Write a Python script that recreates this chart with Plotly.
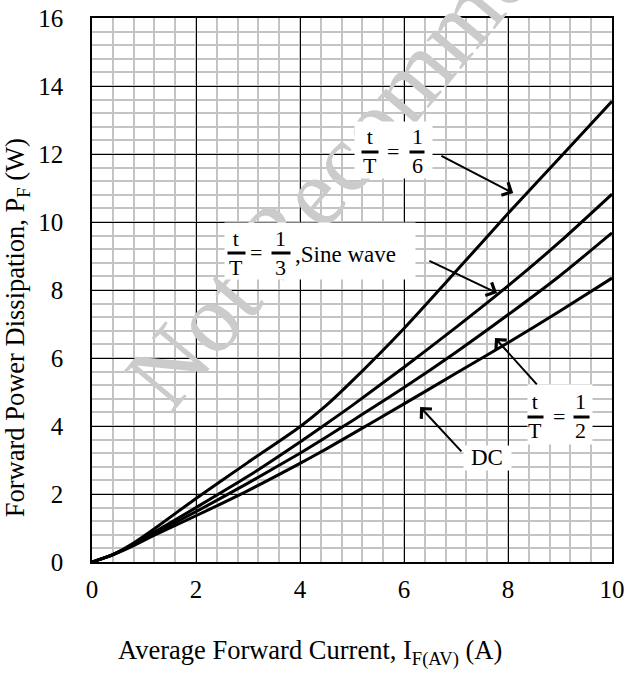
import plotly.graph_objects as go

# ---------------- data ----------------
current = [0, 0.4, 0.8, 1.2, 2, 3, 4, 4.5, 5, 6, 7, 8, 9, 10]
p_sixth = [0, 0.22, 0.56, 0.98, 1.87, 2.93, 3.98, 4.60, 5.32, 6.87, 8.55, 10.25, 11.9, 13.55]
p_sine = [0, 0.22, 0.52, 0.88, 1.60, 2.52, 3.53, 4.06, 4.60, 5.73, 6.90, 8.12, 9.42, 10.82]
p_half = [0, 0.22, 0.50, 0.84, 1.48, 2.32, 3.20, 3.67, 4.15, 5.13, 6.17, 7.27, 8.42, 9.68]
p_dc = [0, 0.21, 0.48, 0.79, 1.36, 2.10, 2.90, 3.32, 3.76, 4.65, 5.55, 6.45, 7.38, 8.35]
series = [("t/T=1/6", p_sixth), ("t/T=1/3, Sine wave", p_sine),
          ("t/T=1/2", p_half), ("DC", p_dc)]
x_ticks = [0, 2, 4, 6, 8, 10]
y_ticks = [0, 2, 4, 6, 8, 10, 12, 14, 16]

SERIF = "Liberation Serif"

fig = go.Figure()
for name, vals in series:
    fig.add_trace(go.Scatter(x=current, y=vals, mode="lines", name=name,
                             line=dict(color="black", width=3, shape="spline", smoothing=0.6),
                             showlegend=False, hoverinfo="skip"))

annotations = []

# watermark (drawn first so labels sit on top)
annotations.append(dict(x=5.72, y=13.5, xref="x", yref="y", text="Not Recommended",
                        showarrow=False, textangle=-50, xanchor="center", yanchor="middle",
                        font=dict(family=SERIF, size=98, color="#cbcbcb")))

def white_box(x0, x1, y0, y1):
    annotations.append(dict(x=(x0 + x1) / 2, y=(y0 + y1) / 2, xref="x", yref="y",
                            text=" ", showarrow=False, bgcolor="white",
                            width=(x1 - x0) * 52, height=(y1 - y0) * 34,
                            borderpad=0, font=dict(size=4)))

def text(x, y, s, size=21, xanchor="center"):
    annotations.append(dict(x=x, y=y, xref="x", yref="y", text=s, showarrow=False,
                            xanchor=xanchor, yanchor="middle",
                            font=dict(family=SERIF, size=size, color="black")))

def bar(x0, x1, y):
    annotations.append(dict(x=(x0 + x1) / 2, y=y, xref="x", yref="y", text=" ",
                            showarrow=False, bgcolor="black",
                            width=(x1 - x0) * 52, height=1.5, borderpad=0,
                            font=dict(size=1)))

def arrow(xt, yt, xh, yh):
    annotations.append(dict(x=xh, y=yh, ax=xt, ay=yt, xref="x", yref="y",
                            axref="x", ayref="y", text="", showarrow=True,
                            arrowhead=4, arrowsize=1.4, arrowwidth=2,
                            arrowcolor="black", standoff=0, startstandoff=0))

# t/T = 1/6
white_box(5.06, 6.54, 11.29, 12.94)
text(5.35, 12.08, "t<br>T", size=22)
bar(5.19, 5.50, 12.06)
text(5.79, 12.08, "=", size=22)
text(6.25, 12.08, "1<br>6", size=22)
bar(6.12, 6.38, 12.06)
arrow(6.69, 11.97, 8.1, 10.85)

# t/T = 1/3, Sine wave
white_box(2.56, 6.21, 8.32, 9.97)
text(2.77, 9.08, "t<br>T", size=22)
bar(2.62, 2.94, 9.10)
text(3.15, 9.10, "=", size=22)
text(3.63, 9.08, "1<br>3", size=22)
bar(3.46, 3.81, 9.10)
text(3.86, 9.03, ",Sine wave", size=23, xanchor="left")
arrow(6.46, 8.88, 7.79, 7.91)

# t/T = 1/2
white_box(8.38, 9.62, 3.47, 5.21)
text(8.52, 4.28, "t<br>T", size=22)
bar(8.38, 8.67, 4.26)
text(8.98, 4.28, "=", size=22)
text(9.40, 4.28, "1<br>2", size=22)
bar(9.27, 9.56, 4.26)
arrow(8.58, 5.18, 7.75, 6.59)

# DC
white_box(7.15, 8.05, 2.7, 3.4)
text(7.6, 3.06, "DC", size=23)
arrow(7.13, 3.21, 6.31, 4.56)

# axis titles
annotations.append(dict(x=0.419, y=-0.167, xref="paper", yref="paper",
                        xanchor="center", yanchor="middle",
                        text="Average Forward Current, I<sub>F(AV)</sub> (A)",
                        showarrow=False, font=dict(family=SERIF, size=26.5, color="black")))
annotations.append(dict(x=-0.144, y=0.43, xref="paper", yref="paper",
                        xanchor="center", yanchor="middle",
                        text="Forward Power Dissipation, P<sub>F</sub> (W)", textangle=-90,
                        showarrow=False, font=dict(family=SERIF, size=26.5, color="black")))

axis_common = dict(showline=True, mirror=True, linecolor="black", linewidth=1.5,
                   showgrid=True, gridcolor="black", gridwidth=1, zeroline=False,
                   automargin=False, ticklabeloverflow="allow",
                   ticks="", tickfont=dict(family=SERIF, size=25, color="black"),
                   minor=dict(dtick=0.4, showgrid=True, gridcolor="#c3c3c3", gridwidth=2))

fig.update_layout(
    width=624, height=675,
    margin=dict(l=92, r=12, t=18, b=113),
    paper_bgcolor="white", plot_bgcolor="white",
    xaxis=dict(range=[0, 10], tickvals=x_ticks, ticklabelstandoff=4, **axis_common),
    yaxis=dict(range=[0, 16], tickvals=y_ticks, ticklabelstandoff=22, **axis_common),
    annotations=annotations,
)

fig.write_html("out.html")
